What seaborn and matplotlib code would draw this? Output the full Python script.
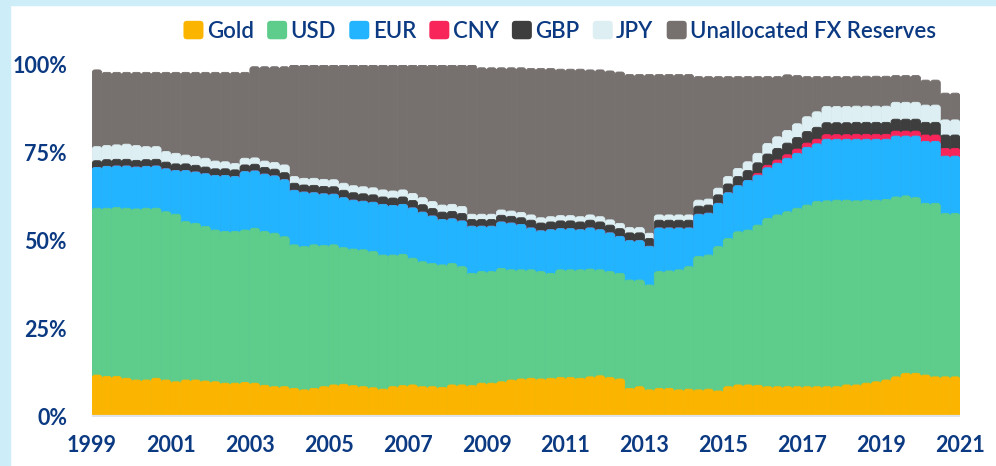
import matplotlib
matplotlib.use("Agg")
import matplotlib.pyplot as plt
from matplotlib.patches import FancyBboxPatch, Rectangle, Patch
from matplotlib.legend_handler import HandlerPatch
import numpy as np
import pandas as pd
import seaborn as sns

# quarterly shares of global reserves, 1999Q1 - 2020Q4 (in %)
quarters = pd.period_range("1999Q1", "2020Q4", freq="Q").astype(str)

gold = [11.9, 11.5, 11.5, 11.0, 10.5, 10.5, 11.0, 10.5, 10.0, 10.5, 10.5, 10.2, 10.0, 9.6, 9.6, 9.8, 9.6, 9.0, 8.6, 8.6, 8.1, 7.7,
        8.1, 8.6, 9.1, 9.3, 8.9, 8.6, 8.3, 7.9, 8.6, 8.9, 9.1, 8.6, 8.6, 8.4, 9.1, 9.1, 8.9, 9.6, 9.6, 10.0, 10.5, 10.8,
        11.0, 10.8, 11.0, 11.2, 11.2, 11.0, 11.4, 11.7, 11.2, 10.8, 8.1, 8.6, 7.7, 8.1, 8.1, 7.7, 7.9, 7.7, 7.9, 7.4, 8.6, 9.1,
        9.1, 9.0, 8.6, 8.6, 8.6, 8.6, 8.6, 8.6, 8.6, 8.6, 9.1, 9.1, 9.6, 10.0, 10.5, 11.4, 12.4, 12.4, 11.9, 11.4, 11.4, 11.4]
usd = [47.4, 47.8, 48.0, 48.3, 48.6, 48.8, 48.3, 47.8, 47.6, 45.0, 44.5, 43.9, 43.1, 43.1, 43.1, 43.3, 44.0, 43.7, 43.6, 42.6, 40.8, 40.7,
       40.8, 40.1, 39.8, 38.8, 38.8, 38.9, 38.7, 38.1, 37.4, 37.3, 36.0, 35.5, 35.0, 34.8, 34.5, 33.6, 31.9, 31.7, 31.7, 32.2, 31.3, 31.0,
       30.8, 30.5, 29.8, 30.6, 30.6, 30.8, 30.6, 30.1, 30.1, 30.0, 30.8, 30.3, 29.8, 33.2, 33.4, 34.1, 34.8, 37.9, 38.1, 41.0, 42.1, 43.5,
       44.0, 45.5, 47.8, 48.8, 49.7, 50.7, 51.6, 52.6, 52.8, 53.0, 52.5, 52.3, 52.0, 51.6, 51.3, 51.1, 50.4, 49.9, 48.8, 49.3, 46.4, 46.4]
eur = [11.6, 11.9, 11.8, 12.0, 11.9, 11.9, 12.0, 12.2, 12.4, 14.5, 14.6, 15.0, 15.5, 15.9, 15.6, 16.6, 16.3, 16.3, 16.3, 16.2, 15.5, 15.5,
       14.8, 14.7, 14.4, 14.2, 13.9, 13.8, 14.0, 14.4, 14.1, 14.2, 14.3, 14.1, 13.5, 12.9, 12.7, 13.0, 13.4, 12.9, 12.9, 13.2, 13.3, 12.9,
       11.9, 11.6, 12.4, 11.7, 11.7, 11.4, 11.7, 11.4, 11.0, 10.5, 11.2, 11.2, 11.0, 12.4, 12.2, 11.9, 11.0, 12.0, 11.9, 12.3, 13.0, 13.1,
       14.1, 14.2, 14.4, 14.7, 15.2, 15.6, 16.4, 16.4, 17.5, 17.3, 17.3, 17.5, 17.3, 17.3, 17.1, 17.3, 17.0, 17.5, 17.6, 17.6, 16.3, 16.3]
cny = [0.0] * 67 + [0.5, 0.7, 0.9, 1.0, 1.2, 1.2, 1.3, 1.3, 1.3, 1.3, 1.4, 1.4, 1.4, 1.4, 1.4, 1.4, 1.4, 1.8, 1.8, 2.2, 2.2]
gbp = ([1.9] * 19 + [2.0] * 3 + [2.1] * 16 + [1.9] * 6 + [2.2] * 17 + [2.3, 2.3, 2.4, 2.5, 2.6]
       + [2.8, 3.0, 3.2, 3.3, 3.3, 3.3, 3.3] + [3.4] * 11 + [3.6, 3.6, 3.8, 3.8])
jpy = ([4.0, 4.0, 4.1, 4.3, 4.2, 3.7, 3.6, 3.0, 3.0, 2.5, 2.5, 2.5, 2.2, 2.0, 1.8, 1.9, 1.8, 1.8, 1.9, 2.2, 1.9, 1.9]
       + [2.0] * 16 + [1.5] * 6 + [1.5] * 17 + [1.7, 1.7, 1.9, 2.1, 2.3]
       + [2.5, 2.7, 3.0, 3.3, 3.6, 3.9, 4.2, 4.4] + [4.6] * 7 + [4.8] * 3 + [4.9, 4.9, 4.3, 4.3])
unallocated = [21.8, 20.8, 20.6, 20.4, 20.8, 21.1, 21.1, 22.5, 23.0, 23.5, 23.9, 24.4, 25.2, 25.4, 25.9, 24.4, 25.9, 26.8, 27.2, 27.9, 31.7, 32.2,
               32.2, 32.5, 32.6, 33.6, 34.3, 34.6, 34.9, 35.5, 35.8, 35.5, 36.5, 37.7, 38.8, 39.8, 39.6, 40.2, 42.4, 41.6, 41.6, 40.4, 40.7, 41.1,
               41.6, 42.4, 42.1, 41.6, 41.6, 41.9, 41.2, 41.7, 42.3, 43.0, 43.5, 43.5, 45.1, 39.9, 39.9, 39.9, 39.9, 35.1, 34.8, 31.7, 28.4, 26.1,
               24.2, 21.8, 19.0, 17.1, 15.8, 13.7, 11.4, 10.0, 8.5, 8.5, 8.5, 8.5, 8.5, 8.5, 8.5, 7.6, 7.6, 7.6, 7.1, 7.1, 7.6, 7.6]

series = ["Gold", "USD", "EUR", "CNY", "GBP", "JPY", "Unallocated FX Reserves"]
colors = ["#fbb500", "#5ecc8a", "#22b4fe", "#f8255a", "#3e3e3e", "#ddeff3", "#76706f"]
year_labels = list(range(1999, 2022, 2))

navy = "#0b3a82"

df = pd.DataFrame({"quarter": quarters, "Gold": gold, "USD": usd, "EUR": eur, "CNY": cny,
                   "GBP": gbp, "JPY": jpy, "Unallocated FX Reserves": unallocated})
cum = df[series].cumsum(axis=1)

sns.set_style("white")
plt.rcParams["font.family"] = ["Lato", "DejaVu Sans"]

fig = plt.figure(figsize=(9.96, 4.66), dpi=100)
ax = fig.add_axes([0.0924, 0.1052, 0.8715, 0.7554])

# cumulative bars from 0, top layer first so lower layers sit on top
for name, col in reversed(list(zip(series, colors))):
    sns.barplot(x=df["quarter"], y=cum[name], color=col, width=1.0, saturation=1,
                errorbar=None, ax=ax)

# rounded bar tops like the original
r = 0.3
aspect = 2.8
for p in list(ax.patches):
    x, y = p.get_xy()
    w, h = p.get_width(), p.get_height()
    fc = p.get_facecolor()
    fb = FancyBboxPatch((x, y - 2), w, h + 2, boxstyle=f"round,pad=0,rounding_size={r}",
                        mutation_aspect=aspect, fc=fc, ec=fc, lw=0.6, zorder=2)
    p.remove()
    ax.add_patch(fb)

ax.axhline(0.3, color="#dfe4ea", lw=1.6, zorder=5)

ax.set_xlim(-0.5, len(quarters) - 0.5)
ax.set_ylim(0, 100)
ax.set_xticks(np.arange(-0.5, len(quarters), 8))
ax.set_xticklabels(year_labels)
ax.set_yticks([0, 25, 50, 75, 100])
ax.set_yticklabels([f"{v}%" for v in [0, 25, 50, 75, 100]])
ax.tick_params(axis="both", length=0, labelsize=15.5, labelcolor=navy)
ax.tick_params(axis="x", pad=13)
ax.tick_params(axis="y", pad=18)
for lab in ax.get_xticklabels() + ax.get_yticklabels():
    lab.set_fontweight("bold")
ax.set_xlabel("")
ax.set_ylabel("")
sns.despine(ax=ax, left=True, bottom=True)


class RoundHandler(HandlerPatch):
    def create_artists(self, legend, orig_handle, xdescent, ydescent, width, height, fontsize, trans):
        p = FancyBboxPatch((-xdescent, -ydescent), width, height,
                           boxstyle="round,pad=0,rounding_size=2.5",
                           fc=orig_handle.get_facecolor(), ec="none", transform=trans)
        return [p]


handles = [Patch(facecolor=c) for c in colors]
leg = fig.legend(handles, series, loc="center", bbox_to_anchor=(0.562, 0.933), ncol=7, frameon=False,
                 fontsize=16, labelcolor=navy, handlelength=0.9, handleheight=0.9,
                 handletextpad=0.15, columnspacing=0.6,
                 handler_map={Patch: RoundHandler()})
for t in leg.get_texts():
    t.set_fontweight("semibold")

# light blue frame on the left and top
fig.patches.append(Rectangle((0, 0), 10 / 996, 1, transform=fig.transFigure, color="#cdeef9", zorder=0))
fig.patches.append(Rectangle((0, 1 - 5 / 466), 1, 5 / 466, transform=fig.transFigure, color="#cdeef9", zorder=0))

fig.savefig("out.png", dpi=100)
